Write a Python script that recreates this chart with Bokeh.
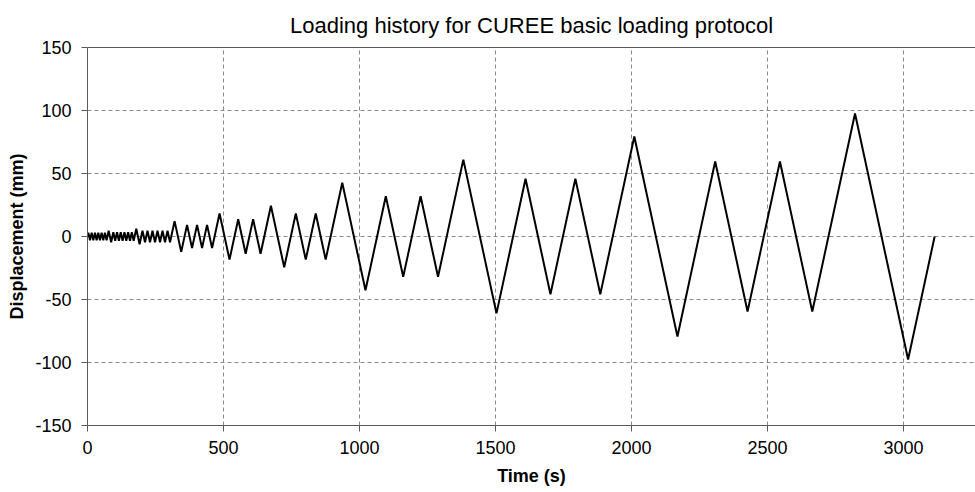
from bokeh.plotting import figure
from bokeh.models import Range1d, FixedTicker, ColumnDataSource, LinearAxis
from bokeh.embed import file_html
from bokeh.resources import INLINE

# Vertices of the loading history (time in s, displacement in mm)
time_s = [0.0,
          3.05, 9.15, 15.25, 21.35, 27.45, 33.55, 39.65, 45.75, 51.85, 57.95, 64.05, 70.15,
          77.8, 87.0,
          95.0, 101.8, 108.6, 115.4, 122.2, 129.0, 135.8, 142.6, 149.4, 156.2, 163.0, 169.8,
          179.3, 191.5,
          202.2, 211.4, 220.6, 229.8, 239.0, 248.2, 257.4, 266.6, 275.8, 285.0, 294.2, 303.4,
          320.2, 344.6,
          366.0, 384.4, 402.8, 421.2, 439.6, 458.0,
          485.5, 522.1,
          554.1, 581.5, 608.9, 636.3,
          674.4, 723.2,
          765.9, 802.5, 839.1, 875.7,
          936.7, 1022.1,
          1096.8, 1160.8, 1224.8, 1288.8,
          1381.8, 1503.8,
          1610.6, 1702.2, 1793.8, 1885.4,
          2010.5, 2169.1,
          2307.9, 2426.9, 2545.9, 2664.9,
          2822.0, 3017.2,
          3114.8]
disp_mm = [0.0,
           3.05, -3.05, 3.05, -3.05, 3.05, -3.05, 3.05, -3.05, 3.05, -3.05, 3.05, -3.05,
           4.6, -4.6,
           3.4, -3.4, 3.4, -3.4, 3.4, -3.4, 3.4, -3.4, 3.4, -3.4, 3.4, -3.4,
           6.1, -6.1,
           4.6, -4.6, 4.6, -4.6, 4.6, -4.6, 4.6, -4.6, 4.6, -4.6, 4.6, -4.6,
           12.2, -12.2,
           9.2, -9.2, 9.2, -9.2, 9.2, -9.2,
           18.3, -18.3,
           13.7, -13.7, 13.7, -13.7,
           24.4, -24.4,
           18.3, -18.3, 18.3, -18.3,
           42.7, -42.7,
           32.0, -32.0, 32.0, -32.0,
           61.0, -61.0,
           45.8, -45.8, 45.8, -45.8,
           79.3, -79.3,
           59.5, -59.5, 59.5, -59.5,
           97.6, -97.6,
           0.0]

x_ticks = [0, 500, 1000, 1500, 2000, 2500, 3000]
y_ticks = [-150, -100, -50, 0, 50, 100, 150]

FONT = "Liberation Sans"
AXIS_COLOR = "#5a5a5a"

p = figure(width=975, height=492, output_backend="svg", toolbar_location=None,
           x_range=Range1d(0, 3265), y_range=Range1d(-150, 150),
           title="Loading history for CUREE basic loading protocol",
           min_border_left=87, min_border_right=0, min_border_top=46, min_border_bottom=67)

p.title.align = "center"
p.title.text_font = FONT
p.title.text_font_size = "22px"
p.title.text_font_style = "normal"
p.title.text_color = "#000000"
p.title.standoff = 20

src = ColumnDataSource(dict(t=time_s, d=disp_mm))
p.line("t", "d", source=src, line_color="black", line_width=2)

for ax in (p.xaxis[0], p.yaxis[0]):
    ax.major_label_text_font = FONT
    ax.major_label_text_font_size = "18px"
    ax.major_label_text_color = "#000000"
    ax.axis_label_text_font = FONT
    ax.axis_label_text_font_size = "18px"
    ax.axis_label_text_font_style = "bold"
    ax.axis_label_text_color = "#000000"
    ax.axis_line_color = AXIS_COLOR
    ax.major_tick_line_color = AXIS_COLOR
    ax.major_tick_out = 6
    ax.major_tick_in = 0
    ax.minor_tick_line_color = None

p.xaxis.axis_label = "Time (s)"
p.yaxis.axis_label = "Displacement (mm)"
p.xaxis.ticker = FixedTicker(ticks=x_ticks)
p.yaxis.ticker = FixedTicker(ticks=y_ticks)
p.yaxis.major_label_overrides = {v: str(v) for v in y_ticks}
p.xaxis.major_label_standoff = 9
p.yaxis.major_label_standoff = 10
p.xaxis.axis_label_standoff = 9
p.yaxis.axis_label_standoff = 5

# top border of the plot area (no right border is visible in the reference)
top = LinearAxis(ticker=FixedTicker(ticks=[]), axis_line_color=AXIS_COLOR,
                 major_tick_line_color=None, minor_tick_line_color=None,
                 major_label_text_font_size="0px")
p.add_layout(top, "above")

p.xgrid.ticker = FixedTicker(ticks=x_ticks[1:])
p.ygrid.ticker = FixedTicker(ticks=[-100, -50, 0, 50, 100])
for g in (p.xgrid[0], p.ygrid[0]):
    g.grid_line_color = "#8a8a8a"
    g.grid_line_dash = "4 3"
    g.grid_line_width = 1

p.outline_line_color = None
p.background_fill_color = "white"
p.border_fill_color = "white"

open("out.html", "w").write(file_html(p, INLINE))
